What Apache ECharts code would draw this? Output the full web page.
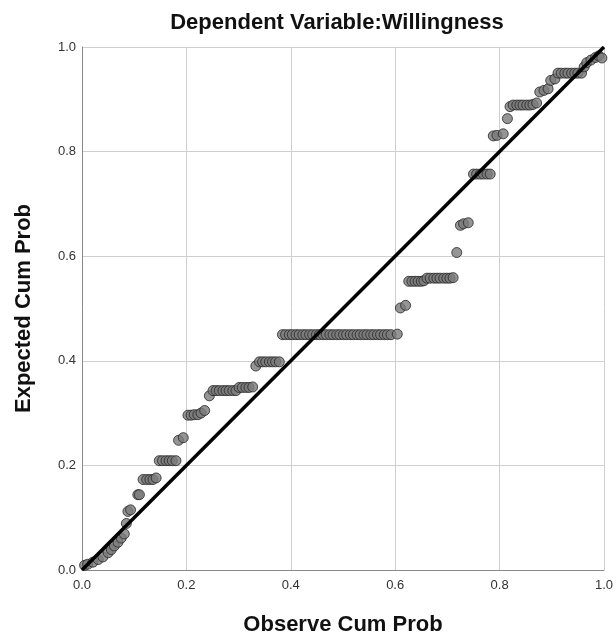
<!DOCTYPE html>
<html>
<head>
<meta charset="utf-8">
<script src="https://cdn.jsdelivr.net/npm/echarts@6/dist/echarts.min.js"></script>
<style>html,body{margin:0;padding:0;background:#fff}#c{width:616px;height:641px}</style>
</head>
<body>
<div id="c"></div>
<script>
// Observed cumulative probability (x) and expected cumulative probability (y)
var obsCum = [
0.005,0.011,0.021,0.031,0.040,0.050,0.056,0.062,0.069,0.075,0.081,0.085,0.088,0.093,0.107,0.110,
0.117,0.124,0.130,0.136,0.142,
0.148,0.154,0.161,0.167,0.173,0.180,
0.185,0.194,
0.203,0.209,0.215,0.222,0.228,0.235,
0.244,0.251,0.257,0.263,0.270,0.276,0.282,0.289,0.295,0.301,0.307,0.314,0.320,0.327,
0.333,0.340,0.346,0.352,0.359,0.365,0.371,0.378,
0.384,0.390,0.397,0.403,0.410,0.416,0.423,0.429,0.436,0.442,0.449,0.455,0.462,0.468,0.475,0.481,0.488,0.494,0.501,0.507,0.514,0.520,0.527,0.533,0.540,0.546,0.553,0.559,0.566,0.572,0.579,0.585,0.592,0.604,
0.610,0.620,
0.626,0.632,0.638,0.644,0.650,0.655,0.661,0.667,0.674,0.680,0.686,0.693,0.699,0.705,0.711,
0.718,
0.725,0.731,0.740,
0.750,0.756,0.763,0.769,0.776,0.782,
0.788,0.795,0.807,
0.815,
0.820,0.826,0.833,0.839,0.845,0.852,0.858,0.864,0.871,
0.877,0.885,0.893,
0.898,0.906,
0.912,0.918,0.925,0.931,0.938,0.944,0.950,0.957,
0.962,0.967,0.975,0.984,0.990,0.996
];
var expCum = [
0.009,0.011,0.015,0.020,0.025,0.033,0.039,0.046,0.053,0.061,0.069,0.089,0.112,0.115,0.144,0.144,
0.173,0.173,0.173,0.173,0.176,
0.209,0.209,0.209,0.209,0.209,0.209,
0.248,0.253,
0.296,0.296,0.297,0.297,0.300,0.305,
0.333,0.343,0.343,0.343,0.343,0.343,0.343,0.343,0.343,0.349,0.349,0.349,0.349,0.350,
0.390,0.398,0.398,0.398,0.398,0.398,0.398,0.398,
0.450,0.450,0.450,0.450,0.450,0.450,0.450,0.450,0.450,0.450,0.450,0.450,0.450,0.450,0.450,0.450,0.450,0.450,0.450,0.450,0.450,0.450,0.450,0.450,0.450,0.450,0.450,0.450,0.450,0.450,0.450,0.450,0.450,0.451,
0.501,0.506,
0.552,0.552,0.552,0.552,0.552,0.553,0.558,0.558,0.558,0.558,0.558,0.558,0.558,0.558,0.559,
0.607,
0.659,0.662,0.664,
0.757,0.757,0.757,0.757,0.757,0.757,
0.830,0.831,0.834,
0.863,
0.886,0.889,0.889,0.889,0.889,0.889,0.889,0.890,0.893,
0.914,0.917,0.920,
0.936,0.939,
0.950,0.950,0.950,0.950,0.950,0.950,0.950,0.950,
0.962,0.970,0.975,0.980,0.983,0.979
];
var refLine = [[0, 0], [1, 1]];
var titleText = 'Dependent Variable:Willingness';
var xName = 'Observe Cum Prob';
var yName = 'Expected Cum Prob';

var pts = obsCum.map(function (x, i) { return [x, expCum[i]]; });
var font = 'Liberation Sans, Arial, sans-serif';
var chart = echarts.init(document.getElementById('c'), null, {renderer: 'canvas'});
chart.setOption({
  animation: false,
  backgroundColor: '#fff',
  title: {
    text: titleText, left: 332, top: 7, textAlign: 'center',
    textStyle: {fontFamily: font, fontSize: 22, fontWeight: 'bold', color: '#111'}
  },
  grid: {left: 82, right: 10, top: 47, bottom: 67},
  xAxis: {
    type: 'value', min: 0, max: 1, interval: 0.2,
    name: xName, nameLocation: 'middle', nameGap: 44,
    nameTextStyle: {fontFamily: font, fontSize: 22, fontWeight: 'bold', color: '#111'},
    axisLine: {show: true, lineStyle: {color: '#888', width: 1}},
    axisTick: {show: false},
    axisLabel: {fontFamily: font, fontSize: 13, color: '#333', margin: 9,
      formatter: function (v) { return v.toFixed(1); }},
    splitLine: {show: true, lineStyle: {color: '#cfcfcf', width: 1}}
  },
  yAxis: {
    type: 'value', min: 0, max: 1, interval: 0.2,
    name: yName, nameLocation: 'middle', nameGap: 47, nameRotate: 90,
    nameTextStyle: {fontFamily: font, fontSize: 22, fontWeight: 'bold', color: '#111'},
    axisLine: {show: true, lineStyle: {color: '#888', width: 1}},
    axisTick: {show: false},
    axisLabel: {fontFamily: font, fontSize: 13, color: '#333', margin: 6,
      formatter: function (v) { return v.toFixed(1); }},
    splitLine: {show: true, lineStyle: {color: '#cfcfcf', width: 1}}
  },
  series: [
    {
      type: 'scatter', data: pts, symbol: 'circle', symbolSize: 10, z: 2,
      itemStyle: {color: '#7b7b7b', borderColor: '#262626', borderWidth: 1}
    },
    {
      type: 'line', data: refLine, showSymbol: false, symbol: 'none', z: 3,
      lineStyle: {color: '#000', width: 3.5}
    }
  ]
});
</script>
</body>
</html>
